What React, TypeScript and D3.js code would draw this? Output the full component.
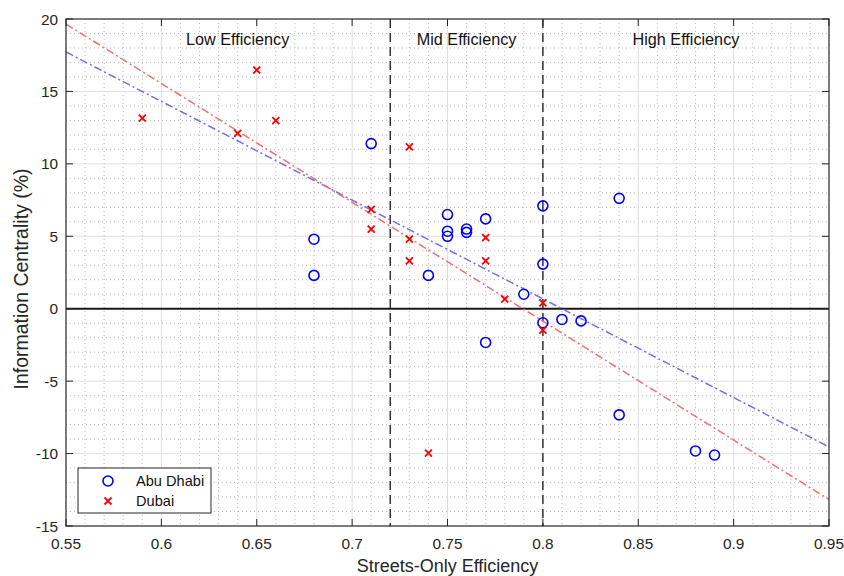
import React, { useEffect, useRef } from 'react';
import * as d3 from 'd3';

// Abu Dhabi points
const abuDhabiX = [0.68, 0.68, 0.71, 0.74, 0.75, 0.75, 0.75, 0.76, 0.76, 0.77, 0.77, 0.79, 0.8, 0.8, 0.8, 0.81, 0.82, 0.84, 0.84, 0.88, 0.89];
const abuDhabiY = [4.8, 2.3, 11.4, 2.3, 6.5, 5.35, 5.0, 5.5, 5.27, 6.2, -2.33, 1.0, 7.1, 3.08, -0.97, -0.74, -0.84, 7.62, -7.33, -9.82, -10.1];

// Dubai points
const dubaiX = [0.59, 0.64, 0.65, 0.66, 0.71, 0.71, 0.73, 0.73, 0.73, 0.74, 0.77, 0.77, 0.78, 0.8, 0.8];
const dubaiY = [13.15, 12.1, 16.48, 12.98, 6.86, 5.5, 11.18, 4.8, 3.31, -9.97, 4.9, 3.31, 0.66, 0.4, -1.48];

// linear fits: [value at 0.55, value at 0.95]
const abuDhabiFit = [17.72, -9.54];
const dubaiFit = [19.65, -13.17];

const xTicks = [0.55, 0.6, 0.65, 0.7, 0.75, 0.8, 0.85, 0.9, 0.95];
const yTicks = [-15, -10, -5, 0, 5, 10, 15, 20];
const boundaries = [0.72, 0.8];
const regionLabels = ['Low Efficiency', 'Mid Efficiency', 'High Efficiency'];
const regionCenters = [0.64, 0.76, 0.875];

export default function App() {
  const ref = useRef<SVGSVGElement>(null);
  const width = 844,
    height = 576;
  const margin = { top: 19, right: 15, bottom: 50, left: 66 };
  const font = 'Arial, "Liberation Sans", Helvetica, sans-serif';
  const axisColor = '#262626';

  useEffect(() => {
    const svg = d3.select(ref.current);
    svg.selectAll('*').remove();

    const x = d3.scaleLinear().domain([0.55, 0.95]).range([margin.left, width - margin.right]);
    const y = d3.scaleLinear().domain([-15, 20]).range([height - margin.bottom, margin.top]);
    const [x0, x1] = x.range();
    const [y0, y1] = y.range();

    svg.append('rect').attr('width', width).attr('height', height).attr('fill', '#fff');

    // minor grid
    const minorX = d3.range(56, 95).map((d) => d / 100).filter((d) => Math.round(d * 100) % 5 !== 0);
    const minorY = d3.range(-14, 20).filter((d) => d % 5 !== 0);
    const grid = svg.append('g');
    grid
      .selectAll('.mx')
      .data(minorX)
      .join('line')
      .attr('x1', (d) => x(d))
      .attr('x2', (d) => x(d))
      .attr('y1', y1)
      .attr('y2', y0)
      .attr('stroke', '#b8b8b8')
      .attr('stroke-width', 1)
      .attr('stroke-dasharray', '1,3');
    grid
      .selectAll('.my')
      .data(minorY)
      .join('line')
      .attr('x1', x0)
      .attr('x2', x1)
      .attr('y1', (d) => y(d))
      .attr('y2', (d) => y(d))
      .attr('stroke', '#b8b8b8')
      .attr('stroke-width', 1)
      .attr('stroke-dasharray', '1,3');

    // major grid
    grid
      .selectAll('.gx')
      .data(xTicks.slice(1, -1))
      .join('line')
      .attr('x1', (d) => x(d))
      .attr('x2', (d) => x(d))
      .attr('y1', y1)
      .attr('y2', y0)
      .attr('stroke', '#e0e0e0')
      .attr('stroke-width', 1);
    grid
      .selectAll('.gy')
      .data(yTicks.slice(1, -1))
      .join('line')
      .attr('x1', x0)
      .attr('x2', x1)
      .attr('y1', (d) => y(d))
      .attr('y2', (d) => y(d))
      .attr('stroke', '#e0e0e0')
      .attr('stroke-width', 1);

    svg
      .append('defs')
      .append('clipPath')
      .attr('id', 'plotclip')
      .append('rect')
      .attr('x', x0)
      .attr('y', y1)
      .attr('width', x1 - x0)
      .attr('height', y0 - y1);

    // zero line
    svg
      .append('line')
      .attr('x1', x0)
      .attr('x2', x1)
      .attr('y1', y(0))
      .attr('y2', y(0))
      .attr('stroke', '#1a1a1a')
      .attr('stroke-width', 2);

    // region boundaries
    svg
      .selectAll('.bd')
      .data(boundaries)
      .join('line')
      .attr('x1', (d) => x(d))
      .attr('x2', (d) => x(d))
      .attr('y1', y1)
      .attr('y2', y0)
      .attr('stroke', '#333')
      .attr('stroke-width', 1.5)
      .attr('stroke-dasharray', '9,5');

    svg
      .selectAll('.rl')
      .data(regionLabels)
      .join('text')
      .attr('x', (d, i) => x(regionCenters[i]))
      .attr('y', 45)
      .attr('text-anchor', 'middle')
      .attr('font-family', font)
      .attr('font-size', 16.2)
      .attr('fill', '#111')
      .text((d) => d);

    // fit lines
    const line = d3
      .line<number>()
      .x((d, i) => x(i === 0 ? 0.55 : 0.95))
      .y((d) => y(d));
    const fits = svg.append('g').attr('clip-path', 'url(#plotclip)');
    fits
      .append('path')
      .attr('d', line(abuDhabiFit))
      .attr('fill', 'none')
      .attr('stroke', '#6f6ff5')
      .attr('stroke-width', 1.5)
      .attr('stroke-dasharray', '8,3,2,3');
    fits
      .append('path')
      .attr('d', line(dubaiFit))
      .attr('fill', 'none')
      .attr('stroke', '#f56f6f')
      .attr('stroke-width', 1.5)
      .attr('stroke-dasharray', '8,3,2,3');

    // markers
    svg
      .append('g')
      .selectAll('circle')
      .data(abuDhabiX)
      .join('circle')
      .attr('cx', (d) => x(d))
      .attr('cy', (d, i) => y(abuDhabiY[i]))
      .attr('r', 5)
      .attr('fill', 'none')
      .attr('stroke', '#0000ff')
      .attr('stroke-width', 1.6);

    const cross = (g, cx, cy) => {
      const s = 3.5;
      g.append('path')
        .attr('d', `M${cx - s},${cy - s}L${cx + s},${cy + s}M${cx - s},${cy + s}L${cx + s},${cy - s}`)
        .attr('stroke', '#ff0000')
        .attr('stroke-width', 1.8)
        .attr('fill', 'none');
    };
    const dg = svg.append('g');
    dubaiX.forEach((d, i) => cross(dg, x(d), y(dubaiY[i])));

    // axes with inward ticks on all sides
    const tick = 7;
    const axes = svg.append('g').attr('stroke', axisColor).attr('stroke-width', 1);
    axes.append('rect').attr('x', x0).attr('y', y1).attr('width', x1 - x0).attr('height', y0 - y1).attr('fill', 'none').attr('stroke-width', 1.2);
    xTicks.forEach((t) => {
      axes.append('line').attr('x1', x(t)).attr('x2', x(t)).attr('y1', y0).attr('y2', y0 - tick);
      axes.append('line').attr('x1', x(t)).attr('x2', x(t)).attr('y1', y1).attr('y2', y1 + tick);
    });
    yTicks.forEach((t) => {
      axes.append('line').attr('x1', x0).attr('x2', x0 + tick).attr('y1', y(t)).attr('y2', y(t));
      axes.append('line').attr('x1', x1).attr('x2', x1 - tick).attr('y1', y(t)).attr('y2', y(t));
    });

    svg
      .selectAll('.xt')
      .data(xTicks)
      .join('text')
      .attr('x', (d) => x(d))
      .attr('y', y0 + 23)
      .attr('text-anchor', 'middle')
      .attr('font-family', font)
      .attr('font-size', 15.4)
      .attr('fill', axisColor)
      .text((d) => String(d));
    svg
      .selectAll('.yt')
      .data(yTicks)
      .join('text')
      .attr('x', x0 - 8)
      .attr('y', (d) => y(d) + 5.5)
      .attr('text-anchor', 'end')
      .attr('font-family', font)
      .attr('font-size', 15.4)
      .attr('fill', axisColor)
      .text((d) => String(d));

    svg
      .append('text')
      .attr('x', (x0 + x1) / 2)
      .attr('y', 572)
      .attr('text-anchor', 'middle')
      .attr('font-family', font)
      .attr('font-size', 18)
      .attr('fill', axisColor)
      .text('Streets-Only Efficiency');
    svg
      .append('text')
      .attr('transform', `translate(28,279) rotate(-90)`)
      .attr('text-anchor', 'middle')
      .attr('font-family', font)
      .attr('font-size', 19.5)
      .attr('fill', axisColor)
      .text('Information Centrality (%)');

    // legend
    const lg = svg.append('g').attr('transform', 'translate(78,468)');
    lg.append('rect').attr('width', 133).attr('height', 45).attr('fill', '#fff').attr('stroke', axisColor).attr('stroke-width', 1);
    lg.append('circle').attr('cx', 30).attr('cy', 13).attr('r', 5).attr('fill', 'none').attr('stroke', '#0000ff').attr('stroke-width', 1.6);
    cross(lg, 30, 33);
    lg.append('text').attr('x', 58).attr('y', 18).attr('font-family', font).attr('font-size', 14.6).attr('fill', '#111').text('Abu Dhabi');
    lg.append('text').attr('x', 58).attr('y', 38).attr('font-family', font).attr('font-size', 14.6).attr('fill', '#111').text('Dubai');
  }, []);

  return (
    <svg
      ref={ref}
      width={width}
      height={height}
      viewBox={`0 0 ${width} ${height}`}
      style={{ position: 'absolute', left: 0, top: 0 }}
    />
  );
}
